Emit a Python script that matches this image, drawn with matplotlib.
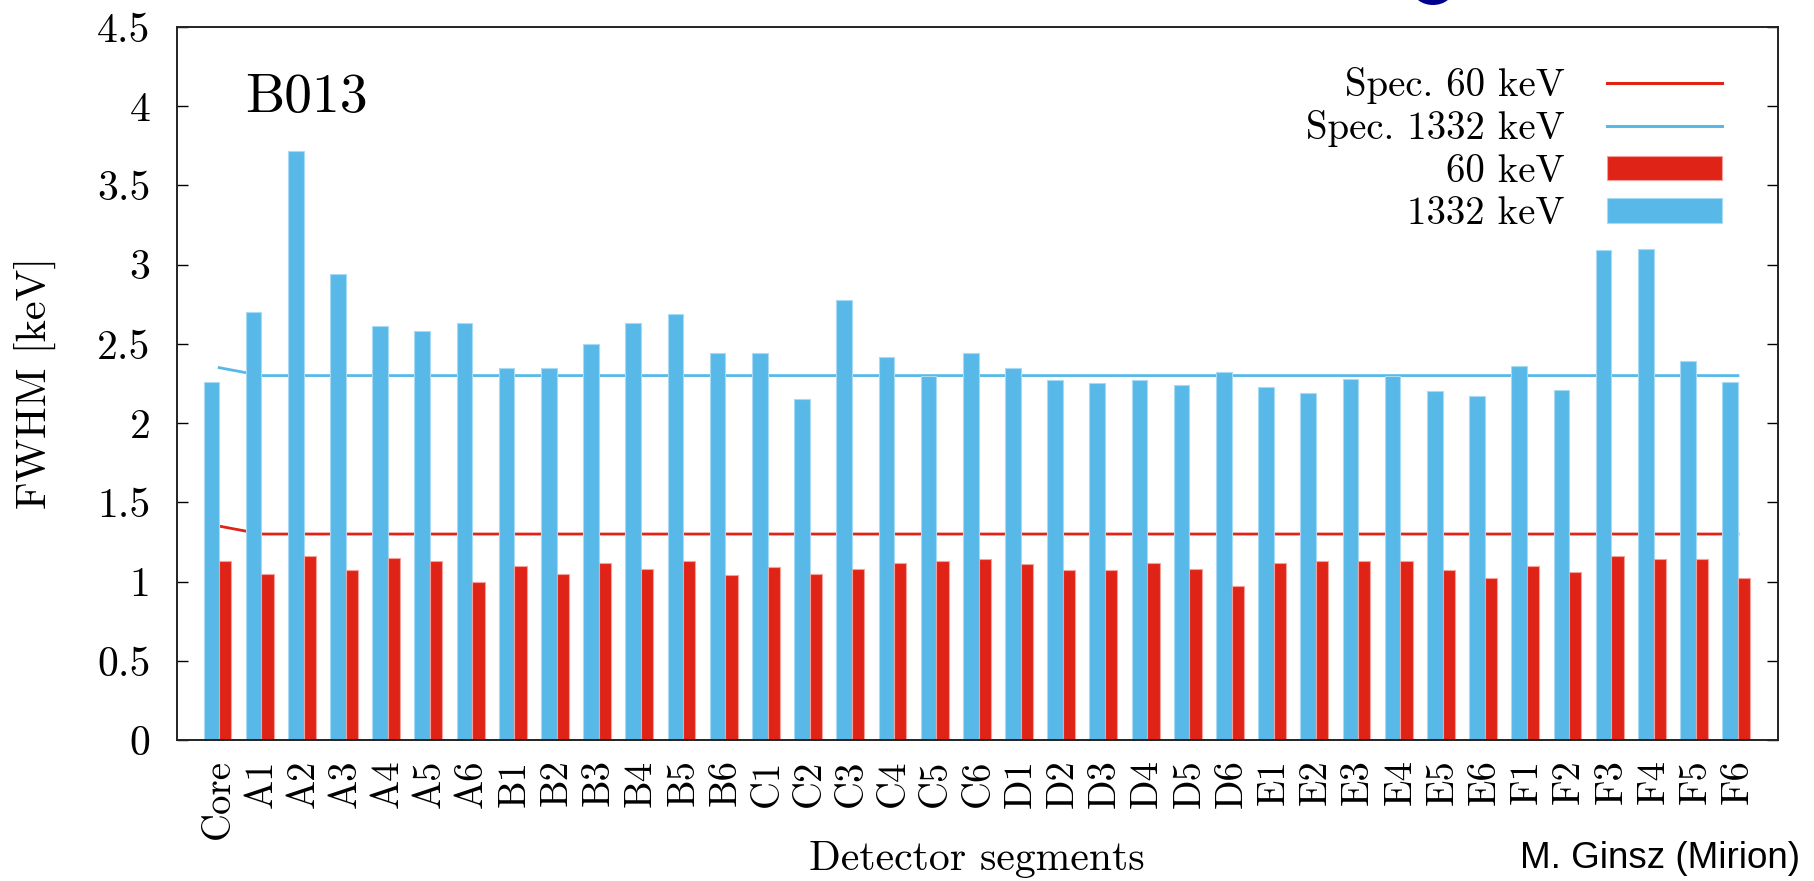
import numpy as np
import matplotlib
matplotlib.use('Agg')
from matplotlib import pyplot as plt
from matplotlib.lines import Line2D
from matplotlib.patches import Patch, Ellipse

# Segment FWHM values, detector B013
segments = ['Core',
            'A1', 'A2', 'A3', 'A4', 'A5', 'A6',
            'B1', 'B2', 'B3', 'B4', 'B5', 'B6',
            'C1', 'C2', 'C3', 'C4', 'C5', 'C6',
            'D1', 'D2', 'D3', 'D4', 'D5', 'D6',
            'E1', 'E2', 'E3', 'E4', 'E5', 'E6',
            'F1', 'F2', 'F3', 'F4', 'F5', 'F6']

fwhm_1332 = [2.26,
             2.70, 3.72, 2.94, 2.61, 2.58, 2.63,
             2.35, 2.35, 2.50, 2.63, 2.69, 2.44,
             2.44, 2.15, 2.78, 2.42, 2.30, 2.44,
             2.35, 2.27, 2.25, 2.27, 2.24, 2.32,
             2.23, 2.19, 2.28, 2.30, 2.20, 2.17,
             2.36, 2.21, 3.09, 3.10, 2.39, 2.26]

fwhm_60 = [1.13,
           1.05, 1.16, 1.07, 1.15, 1.13, 1.00,
           1.10, 1.05, 1.12, 1.08, 1.13, 1.04,
           1.09, 1.05, 1.08, 1.12, 1.13, 1.14,
           1.11, 1.07, 1.07, 1.12, 1.08, 0.97,
           1.12, 1.13, 1.13, 1.13, 1.07, 1.02,
           1.10, 1.06, 1.16, 1.14, 1.14, 1.02]

# specification limits (core has its own)
spec_1332 = [2.35] + [2.30]*36
spec_60 = [1.35] + [1.30]*36

yticks = [0, 0.5, 1, 1.5, 2, 2.5, 3, 3.5, 4, 4.5]

blue = '#58b9e8'
red = '#e02317'

plt.rcParams['font.family'] = ['cmr10', 'DejaVu Serif']
plt.rcParams['axes.formatter.use_mathtext'] = True

fig = plt.figure(figsize=(18.15, 8.81), dpi=100)
ax = fig.add_axes([0.0975, 0.16, 0.8821, 0.8094])

x = np.arange(len(segments))
ax.plot(x, spec_60, color=red, lw=2, zorder=1)
ax.plot(x, spec_1332, color=blue, lw=2, zorder=1)
ax.bar(x - 0.185, fwhm_1332, width=0.37, color=blue, edgecolor='#a8daf4',
       linewidth=0.8, zorder=2)
ax.bar(x + 0.145, fwhm_60, width=0.29, color=red, edgecolor='#f4a09b',
       linewidth=0.8, zorder=2)

ax.set_xlim(-1, 36.95)
ax.set_ylim(0, 4.5)
ax.set_yticks(yticks)
ax.set_yticklabels(['%g' % v for v in yticks])
ax.set_xticks(x)
ax.set_xticklabels(segments, rotation=90, va='top', ha='center')

ax.tick_params(axis='y', direction='in', length=8, width=1, right=True,
               labelsize=30, pad=19)
ax.tick_params(axis='x', direction='in', length=8, width=1, top=True,
               bottom=False, labelsize=28, pad=14)
ax.tick_params(axis='x', which='major', bottom=True, length=0)
for sp in ax.spines.values():
    sp.set_linewidth(1.4)
    sp.set_color('#222222')

ax.text(0.0425, 0.881, 'B013', transform=ax.transAxes, fontsize=40,
        va='baseline', ha='left')

handles = [Line2D([], [], color=red, lw=2.2),
           Line2D([], [], color=blue, lw=2.2),
           Patch(facecolor=red, edgecolor='#f4a09b', lw=0.8),
           Patch(facecolor=blue, edgecolor='#a8daf4', lw=0.8)]
labels = ['Spec. 60 keV', 'Spec. 1332 keV', '60 keV', '1332 keV']
ax.legend(handles, labels, loc='upper right', bbox_to_anchor=(0.965, 0.9445),
          frameon=False, markerfirst=False, fontsize=28, borderpad=0,
          borderaxespad=0, handlelength=2.95, handletextpad=1.1,
          handleheight=0.6, labelspacing=0.17)

fig.text(0.0193, 0.565, 'FWHM [keV]', rotation=90, fontsize=30.5,
         ha='center', va='center')
fig.text(0.5383, 0.025, 'Detector segments', fontsize=30,
         ha='center', va='center')
fig.text(0.9917, 0.026, 'M. Ginsz (Mirion)', fontsize=26.5,
         family=['Liberation Sans', 'DejaVu Sans'], ha='right', va='center')

# bottom of the slide title, cut off at the top edge
fig.add_artist(Ellipse((0.7895, 1.01135), 0.02204, 0.03405,
                       transform=fig.transFigure, color='#00008c', lw=0))

fig.savefig('out.png', dpi=100)
